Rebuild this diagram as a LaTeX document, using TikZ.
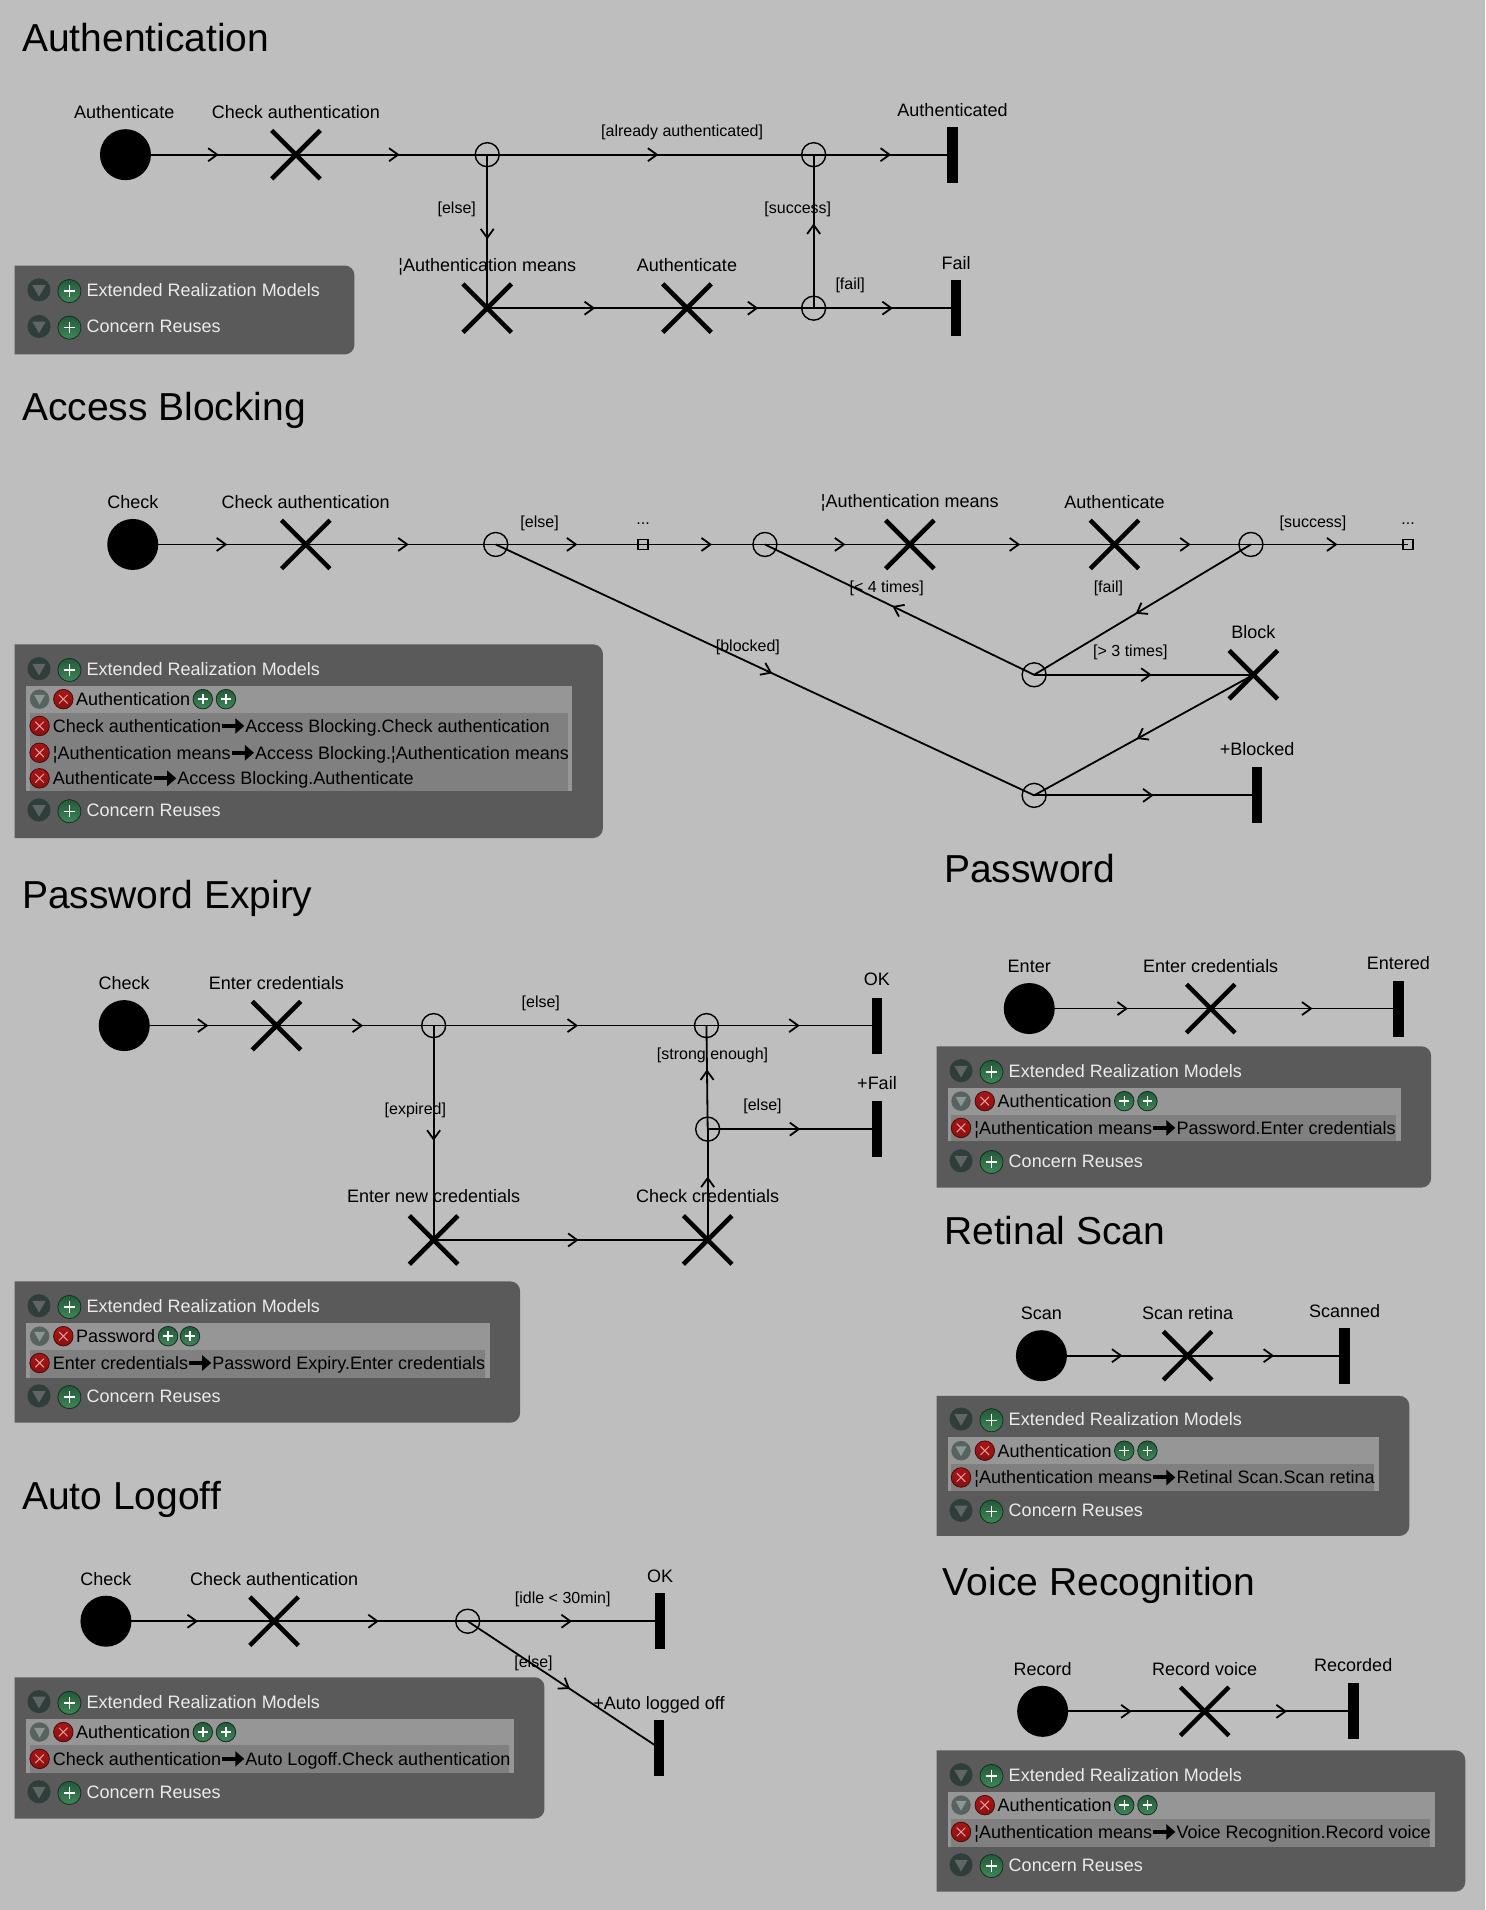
\documentclass[tikz,border=0pt]{standalone}
\usepackage{fontspec}
\setmainfont{Liberation Sans}
\usetikzlibrary{arrows.meta}
\usetikzlibrary{positioning}
\usetikzlibrary{shapes.misc}
\usetikzlibrary{decorations.markings}
\definecolor{pagegray}{HTML}{BEBEBE}
\definecolor{panelgray}{HTML}{5A5A5A}
\definecolor{rowlight}{HTML}{969696}
\definecolor{rowdark}{HTML}{808080}
\definecolor{toggledark}{HTML}{303E3B}
\definecolor{toggletri}{HTML}{5F6664}
\definecolor{togglemid}{HTML}{56635F}
\definecolor{toggletrilight}{HTML}{8E9694}
\definecolor{addtop}{HTML}{24593A}
\definecolor{addbottom}{HTML}{3F8757}
\definecolor{addedge}{HTML}{17301F}
\definecolor{removetop}{HTML}{A81616}
\definecolor{removebottom}{HTML}{8C1010}
\definecolor{removeedge}{HTML}{4A0C0C}
\definecolor{removecross}{HTML}{E0A0A0}
\tikzset{
 title/.style={anchor=west, inner sep=0, text height=28pt, text depth=0pt, font=\fontsize{39}{42}\selectfont},
 initial/.style={circle, fill=black, inner sep=0, minimum size=51pt},
 action/.style={cross out, draw=black, line width=4.5pt, inner sep=0, minimum size=44pt},
 decision/.style={circle, draw=black, line width=1.4pt, inner sep=0, minimum size=24pt},
 stub/.style={rectangle, draw=black, line width=1.3pt, inner sep=0, minimum size=10pt},
 finalbar/.style={rectangle, fill=black, inner sep=0, minimum width=10.5pt, minimum height=56pt},
 actlabel/.style={inner sep=0, font=\fontsize{18}{20}\selectfont},
 edgelabel/.style={inner sep=0, yshift=-2pt, font=\fontsize{16}{18}\selectfont},
 flow/.style={draw=black, line width=1.8pt, decoration={markings,
   mark=at position .5 with {\arrow[xshift=8pt]{Straight Barb[length=9pt,width=13pt]}}}, postaction=decorate},
 panelfill/.style={fill=panelgray},
 headtext/.style={anchor=west, inner sep=0, text=white!92!black, text height=13pt, text depth=0pt, font=\fontsize{18}{20}\selectfont},
 rowtext/.style={anchor=west, inner sep=1pt, text=black, text height=13pt, text depth=0pt, font=\fontsize{18}{20}\selectfont},
 maparrow/.style={draw=black, line width=4pt, -{Triangle[length=9pt,width=15pt]}},
 togglebtn/.pic={
  \fill[toggledark] (0,0) circle (9.5);
  \fill[toggletri] (-5.5,-4) -- (5.5,-4) -- (0,5.5) -- cycle;
 },
 togglesmall/.pic={
  \fill[togglemid] (0,0) circle (8);
  \fill[toggletrilight] (-4.5,-3.5) -- (4.5,-3.5) -- (0,4.5) -- cycle;
 },
 addbtn/.pic={
  \fill[draw=addedge, line width=.8pt, top color=addtop, bottom color=addbottom] (0,0) circle (#1);
  \draw[white, line width=1.4pt] (-#1*.5,0) -- (#1*.5,0) (0,-#1*.5) -- (0,#1*.5);
 },
 removebtn/.pic={
  \fill[draw=removeedge, line width=.8pt, top color=removetop, bottom color=removebottom] (0,0) circle (8);
  \draw[removecross, line width=1pt] (-3.5,-3.5) -- (3.5,3.5) (-3.5,3.5) -- (3.5,-3.5);
 },
}
\newcommand{\panelbox}[4]{
 \fill[panelfill] (#1,#2) -- (#3-8,#2) arc (90:0:8 and -8) -- (#3,#4-8) arc (0:-90:8 and -8) -- (#1,#4) -- cycle;
}
\newcommand{\headrow}[4]{
 \pic at (#2,#3) {togglebtn};
 \pic at (#2+25,#3+1) {addbtn=9.5};
 \node[headtext] (#1) at (#2+39,#3) {#4};
}
\newcommand{\modelrow}[6]{
 \pic at (#2,#3) {togglesmall};
 \pic at (#2+19.5,#3) {removebtn};
 \node[rowtext] (#1) at (#2+29,#3) {#4};
 \pic at (#5,#3) {addbtn=8};
 \pic at (#6,#3) {addbtn=8};
}
\newcommand{\maprow}[5]{
 \pic at (#2,#3) {removebtn};
 \node[rowtext] (#1src) at (#2+10,#3) {#4};
 \node[rowtext, right=22pt of #1src] (#1dst) {#5};
 \draw[maparrow] (#1src) -- (#1dst);
}
\begin{document}
\begin{tikzpicture}[x=1.218pt, y=-1.218pt]
\useasboundingbox (0,0) rectangle (1219.2,1568.1);
\fill[pagegray] (0,0) rectangle (1219.2,1568.1);

\node[title] (authTitle) at (18,31) {Authentication};
\node[initial] (authInit) at (103,127) {};
\node[actlabel] (authInitL) at (102,92) {Authenticate};
\node[action] (authCheck) at (243,127) {};
\node[actlabel] (authCheckL) at (243,92) {Check authentication};
\node[decision] (authD1) at (400,127) {};
\node[decision] (authD2) at (668,127) {};
\node[finalbar] (authDone) at (782,127) {};
\node[actlabel] (authDoneL) at (782,90) {Authenticated};
\node[action] (authMeans) at (400,253) {};
\node[actlabel] (authMeansL) at (400,219) {¦Authentication means};
\node[action] (authAuth) at (564,253) {};
\node[actlabel] (authAuthL) at (564,218) {Authenticate};
\node[decision] (authD3) at (668,253) {};
\node[finalbar] (authFail) at (785,253) {};
\node[actlabel] (authFailL) at (785,216) {Fail};
\node[edgelabel] (authE1) at (560,107) {[already authenticated]};
\node[edgelabel] (authE2) at (375,170) {[else]};
\node[edgelabel] (authE3) at (655,170) {[success]};
\node[edgelabel] (authE4) at (698,233) {[fail]};
\foreach \a/\b in {authInit/authCheck, authCheck/authD1, authD1/authD2, authD2/authDone, authD1/authMeans,
 authMeans/authAuth, authAuth/authD3, authD3/authFail, authD3/authD2} {
 \draw[flow] (\a.center) -- (\b.center);
}
\panelbox{12}{218}{291}{291}
\headrow{authHead}{32}{238}{Extended Realization Models}
\headrow{authReuse}{32}{268}{Concern Reuses}

\node[title] (blockTitle) at (18,334) {Access Blocking};
\node[initial] (blockInit) at (109,447) {};
\node[actlabel] (blockInitL) at (109,412) {Check};
\node[action] (blockCheck) at (251,447) {};
\node[actlabel] (blockCheckL) at (251,412) {Check authentication};
\node[decision] (blockD1) at (407,447) {};
\node[stub] (blockS1) at (528,447) {};
\node[edgelabel] (blockS1L) at (528,428) {...};
\node[decision] (blockD2) at (628,447) {};
\node[action] (blockMeans) at (747,447) {};
\node[actlabel] (blockMeansL) at (747,413) {¦Authentication means};
\node[action] (blockAuth) at (915,447) {};
\node[actlabel] (blockAuthL) at (915,412) {Authenticate};
\node[decision] (blockD3) at (1027,447) {};
\node[stub] (blockS2) at (1156,447) {};
\node[edgelabel] (blockS2L) at (1156,428) {...};
\node[decision] (blockD4) at (849,554) {};
\node[action] (blockBlock) at (1029,554) {};
\node[actlabel] (blockBlockL) at (1029,519) {Block};
\node[decision] (blockD5) at (849,653) {};
\node[finalbar] (blockEnd) at (1032,653) {};
\node[actlabel] (blockEndL) at (1032,615) {+Blocked};
\node[edgelabel] (blockE1) at (443,428) {[else]};
\node[edgelabel] (blockE2) at (1078,428) {[success]};
\node[edgelabel] (blockE3) at (728,481) {[< 4 times]};
\node[edgelabel] (blockE4) at (910,481) {[fail]};
\node[edgelabel] (blockE5) at (928,534) {[> 3 times]};
\node[edgelabel] (blockE6) at (614,530) {[blocked]};
\foreach \a/\b in {blockInit/blockCheck, blockCheck/blockD1, blockD1/blockS1, blockS1/blockD2, blockD2/blockMeans,
 blockMeans/blockAuth, blockAuth/blockD3, blockD3/blockS2, blockD3/blockD4, blockD4/blockD2, blockD4/blockBlock,
 blockBlock/blockD5, blockD5/blockEnd, blockD1/blockD5} {
 \draw[flow] (\a.center) -- (\b.center);
}
\panelbox{12}{529}{495}{688}
\fill[rowlight] (21,563) rectangle (470,649.5);
\fill[rowdark] (24.5,585.5) rectangle (466,649.5);
\headrow{blockHead}{32}{549}{Extended Realization Models}
\modelrow{blockModel}{32.5}{574}{Authentication}{166.5}{185.5}
\maprow{blockMapA}{32.5}{596}{Check authentication}{Access Blocking.Check authentication}
\maprow{blockMapB}{32.5}{618}{¦Authentication means}{Access Blocking.¦Authentication means}
\maprow{blockMapC}{32.5}{639}{Authenticate}{Access Blocking.Authenticate}
\headrow{blockReuse}{32}{665}{Concern Reuses}

\node[title] (expTitle) at (18,734) {Password Expiry};
\node[initial] (expInit) at (102,842) {};
\node[actlabel] (expInitL) at (102,807) {Check};
\node[action] (expEnter) at (227,842) {};
\node[actlabel] (expEnterL) at (227,807) {Enter credentials};
\node[decision] (expD1) at (356,842) {};
\node[decision] (expD2) at (580,842) {};
\node[finalbar] (expOk) at (720,842) {};
\node[actlabel] (expOkL) at (720,804) {OK};
\node[decision] (expD3) at (581,927) {};
\node[finalbar] (expFail) at (720,927) {};
\node[actlabel] (expFailL) at (720,889) {+Fail};
\node[action] (expNew) at (356,1018) {};
\node[actlabel] (expNewL) at (356,982) {Enter new credentials};
\node[action] (expCheck) at (581,1018) {};
\node[actlabel] (expCheckL) at (581,982) {Check credentials};
\node[edgelabel] (expE1) at (444,822) {[else]};
\node[edgelabel] (expE2) at (341,910) {[expired]};
\node[edgelabel] (expE3) at (585,865) {[strong enough]};
\node[edgelabel] (expE4) at (626,907) {[else]};
\foreach \a/\b in {expInit/expEnter, expEnter/expD1, expD1/expD2, expD2/expOk, expD1/expNew, expNew/expCheck,
 expCheck/expD3, expD3/expD2, expD3/expFail} {
 \draw[flow] (\a.center) -- (\b.center);
}
\panelbox{12}{1052}{427}{1168}
\fill[rowlight] (21,1086) rectangle (402,1131);
\fill[rowdark] (24.5,1108) rectangle (398,1131);
\headrow{expHead}{32}{1072}{Extended Realization Models}
\modelrow{expModel}{32.5}{1097}{Password}{138}{156}
\maprow{expMap}{32.5}{1119}{Enter credentials}{Password Expiry.Enter credentials}
\headrow{expReuse}{32}{1146}{Concern Reuses}

\node[title] (logTitle) at (18,1228) {Auto Logoff};
\node[initial] (logInit) at (87,1331) {};
\node[actlabel] (logInitL) at (87,1296) {Check};
\node[action] (logCheck) at (225,1331) {};
\node[actlabel] (logCheckL) at (225,1296) {Check authentication};
\node[decision] (logD1) at (384,1331) {};
\node[finalbar] (logOk) at (542,1331) {};
\node[actlabel] (logOkL) at (542,1294) {OK};
\node[finalbar] (logOff) at (541,1435) {};
\node[actlabel] (logOffL) at (541,1400) {+Auto logged off};
\node[edgelabel] (logE1) at (462,1311) {[idle < 30min]};
\node[edgelabel] (logE2) at (438,1364) {[else]};
\foreach \a/\b in {logInit/logCheck, logCheck/logD1, logD1/logOk, logD1/logOff} {
 \draw[flow] (\a.center) -- (\b.center);
}
\panelbox{12}{1377}{447}{1493}
\fill[rowlight] (21,1411) rectangle (422,1456);
\fill[rowdark] (24.5,1433) rectangle (418,1456);
\headrow{logHead}{32}{1397}{Extended Realization Models}
\modelrow{logModel}{32.5}{1422}{Authentication}{166.5}{185.5}
\maprow{logMap}{32.5}{1444}{Check authentication}{Auto Logoff.Check authentication}
\headrow{logReuse}{32}{1471}{Concern Reuses}

\node[title] (passTitle) at (775,713) {Password};
\node[initial] (passInit) at (845,828) {};
\node[actlabel] (passInitL) at (845,793) {Enter};
\node[action] (passEnter) at (994,828) {};
\node[actlabel] (passEnterL) at (994,793) {Enter credentials};
\node[finalbar] (passEnd) at (1148,828) {};
\node[actlabel] (passEndL) at (1148,791) {Entered};
\foreach \a/\b in {passInit/passEnter, passEnter/passEnd} {
 \draw[flow] (\a.center) -- (\b.center);
}
\panelbox{769}{859}{1175}{975}
\fill[rowlight] (778,893) rectangle (1150,937);
\fill[rowdark] (781,915) rectangle (1146,937);
\headrow{passHead}{789}{879}{Extended Realization Models}
\modelrow{passModel}{789}{904}{Authentication}{923}{942}
\maprow{passMap}{789}{926}{¦Authentication means}{Password.Enter credentials}
\headrow{passReuse}{789}{953}{Concern Reuses}

\node[title] (retTitle) at (775,1010) {Retinal Scan};
\node[initial] (retInit) at (855,1113) {};
\node[actlabel] (retInitL) at (855,1078) {Scan};
\node[action] (retScan) at (975,1113) {};
\node[actlabel] (retScanL) at (975,1078) {Scan retina};
\node[finalbar] (retEnd) at (1104,1113) {};
\node[actlabel] (retEndL) at (1104,1076) {Scanned};
\foreach \a/\b in {retInit/retScan, retScan/retEnd} {
 \draw[flow] (\a.center) -- (\b.center);
}
\panelbox{769}{1146}{1157}{1261}
\fill[rowlight] (778,1180) rectangle (1132,1224);
\fill[rowdark] (781,1202) rectangle (1128,1224);
\headrow{retHead}{789}{1165}{Extended Realization Models}
\modelrow{retModel}{789}{1191}{Authentication}{923}{942}
\maprow{retMap}{789}{1213}{¦Authentication means}{Retinal Scan.Scan retina}
\headrow{retReuse}{789}{1240}{Concern Reuses}

\node[title] (voiceTitle) at (774,1298) {Voice Recognition};
\node[initial] (voiceInit) at (856,1405) {};
\node[actlabel] (voiceInitL) at (856,1370) {Record};
\node[action] (voiceRec) at (989,1405) {};
\node[actlabel] (voiceRecL) at (989,1370) {Record voice};
\node[finalbar] (voiceEnd) at (1111,1405) {};
\node[actlabel] (voiceEndL) at (1111,1367) {Recorded};
\foreach \a/\b in {voiceInit/voiceRec, voiceRec/voiceEnd} {
 \draw[flow] (\a.center) -- (\b.center);
}
\panelbox{769}{1437}{1203}{1553}
\fill[rowlight] (778,1471) rectangle (1178,1516);
\fill[rowdark] (781,1493) rectangle (1174,1516);
\headrow{voiceHead}{789}{1457}{Extended Realization Models}
\modelrow{voiceModel}{789}{1482}{Authentication}{923}{942}
\maprow{voiceMap}{789}{1504}{¦Authentication means}{Voice Recognition.Record voice}
\headrow{voiceReuse}{789}{1531}{Concern Reuses}
\end{tikzpicture}
\end{document}
